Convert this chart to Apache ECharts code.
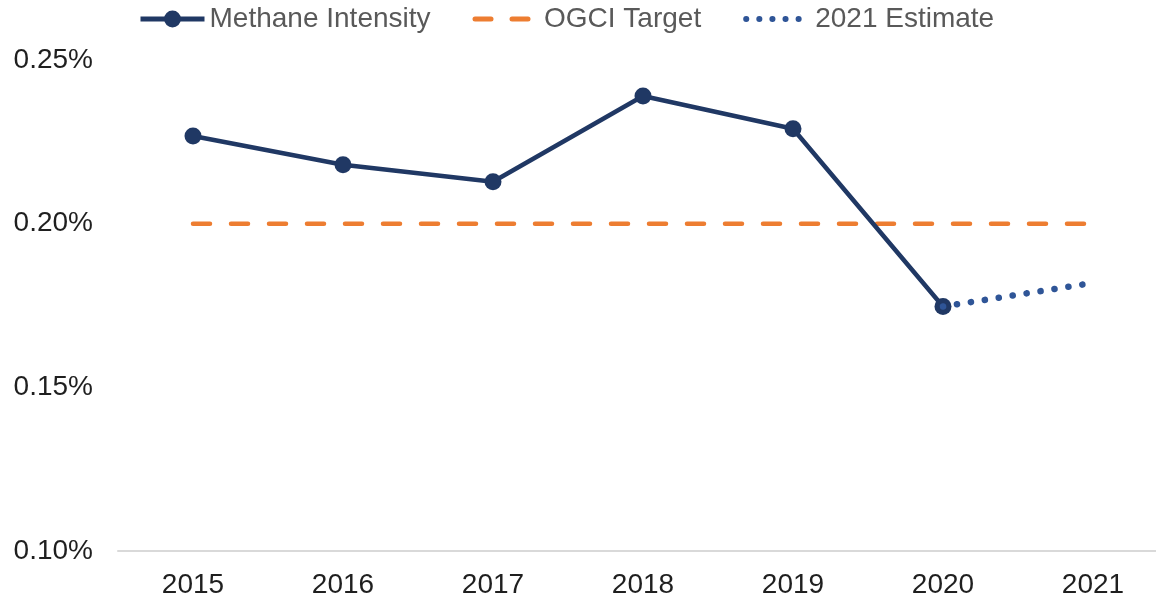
<!DOCTYPE html>
<html>
<head>
<meta charset="utf-8">
<script src="https://cdn.jsdelivr.net/npm/echarts@6/dist/echarts.min.js"></script>
<style>
  html, body { margin: 0; padding: 0; background: #fff; }
  #chart { width: 1156px; height: 597px; }
</style>
</head>
<body>
<div id="chart"></div>
<script>
const years = ["2015", "2016", "2017", "2018", "2019", "2020", "2021"];
// values in percent
const methaneIntensity = [0.2268, 0.2180, 0.2128, 0.2390, 0.2290, 0.1747, null];
const estimate2021 = [null, null, null, null, null, 0.1747, 0.1819];
const ogciTarget = [0.20, 0.20, 0.20, 0.20, 0.20, 0.20, 0.20];

const font = "'Liberation Sans', Arial, sans-serif";
const navy = "#203864";
const orange = "#ED7D31";
const blue = "#2F5597";

const myChart = echarts.init(document.getElementById("chart"));
let option = {
  animation: false,
  legend: {
    left: 138,
    top: 5,
    padding: 0,
    itemWidth: 64,
    itemHeight: 21,
    itemGap: 42,
    textStyle: { fontFamily: font, fontSize: 28, color: "#595959" },
    data: [
      { name: "Methane Intensity", lineStyle: { width: 5, color: navy } },
      {
        name: "OGCI Target",
        itemStyle: { opacity: 0 },
        lineStyle: { width: 5, type: [16, 21], cap: "round", color: orange },
      },
      {
        name: "2021 Estimate",
        itemStyle: { opacity: 0 },
        lineStyle: { width: 6, type: [0.1, 13], cap: "round", color: blue },
      },
    ],
  },
  grid: { left: 118, top: 60, width: 1050, height: 491, outerBoundsMode: "none" },
  xAxis: {
    type: "category",
    data: years,
    axisTick: { show: false },
    axisLine: { lineStyle: { color: "#d9d9d9", width: 2 } },
    axisLabel: { fontFamily: font, fontSize: 28, color: "#1f1f1f", margin: 20 },
  },
  yAxis: {
    type: "value",
    min: 0.10,
    max: 0.25,
    interval: 0.05,
    splitLine: { show: false },
    axisLine: { show: false },
    axisLabel: {
      fontFamily: font,
      fontSize: 28,
      color: "#1f1f1f",
      margin: 25,
      formatter: (v) => v.toFixed(2) + "%",
    },
  },
  series: [
    {
      name: "OGCI Target",
      type: "line",
      data: ogciTarget,
      symbol: "none",
      color: orange,
      lineStyle: { width: 4.5, type: [17, 21], cap: "round", color: orange },
      z: 1,
    },
    {
      name: "Methane Intensity",
      type: "line",
      data: methaneIntensity,
      symbol: "circle",
      symbolSize: 17,
      color: navy,
      lineStyle: { width: 4.5, color: navy },
      itemStyle: { color: navy },
      z: 2,
    },
    {
      name: "2021 Estimate",
      type: "line",
      data: estimate2021,
      symbol: "none",
      color: blue,
      lineStyle: { width: 6.5, type: [0.1, 14], cap: "round", color: blue },
      z: 3,
    },
  ],
};

option && myChart.setOption(option);
</script>
</body>
</html>
